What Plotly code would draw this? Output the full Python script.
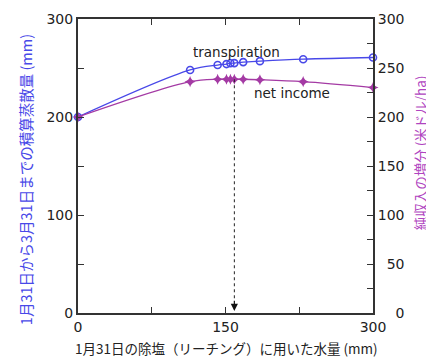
import plotly.graph_objects as go

# Data
water = [0, 114, 142, 151, 155, 159, 168, 185, 229, 300]
transpiration = [200, 248, 253, 254, 254.8, 255, 256, 257, 259, 260.7]
net_income = [200, 236, 238.5, 238.5, 238.5, 238.5, 238.5, 238, 236, 230]
optimal_water = 159
optimal_income = 238.5

x_ticks = [0, 150, 300]
y_left_ticks = [0, 100, 200, 300]
y_right_ticks = [0, 50, 100, 150, 200, 250, 300]

BLUE = "#4848e8"
PURPLE = "#a43aa4"
AXIS = "#333333"
FONT = "DejaVu Sans, sans-serif"
JFONT = "Noto Sans CJK JP"

# right-aligned right-axis labels (pad with figure spaces)
right_text = [str(v).rjust(3, "\u2007") for v in y_right_ticks]

fig = go.Figure()
fig.add_trace(go.Scatter(
    x=water, y=transpiration, mode="lines+markers",
    line=dict(color=BLUE, width=1.3, shape="spline", smoothing=1.0),
    marker=dict(symbol="circle-open", size=7, color=BLUE, line=dict(width=1.6)),
    showlegend=False, yaxis="y", cliponaxis=False))
fig.add_trace(go.Scatter(
    x=water, y=net_income, mode="lines+markers",
    line=dict(color=PURPLE, width=1.3, shape="spline", smoothing=1.0),
    marker=dict(symbol="star-diamond", size=8, color=PURPLE),
    showlegend=False, yaxis="y2", cliponaxis=False))

# dashed line from optimum down to axis with arrow
fig.add_shape(type="line", xref="x", yref="y", x0=optimal_water, x1=optimal_water,
              y0=optimal_income, y1=12, line=dict(color="#222222", width=1, dash="dot"))
fig.add_annotation(x=optimal_water, y=2, ax=optimal_water, ay=14, xref="x", yref="y",
                   axref="x", ayref="y", text="", showarrow=True, arrowhead=2,
                   arrowsize=1.2, arrowwidth=1.2, arrowcolor="#111111")

fig.add_annotation(x=161.5, y=266.5, xref="x", yref="y", text="transpiration",
                   showarrow=False, font=dict(family=FONT, size=13.5, color="#222222"))
fig.add_annotation(x=217.5, y=225, xref="x", yref="y", text="net income",
                   showarrow=False, font=dict(family=FONT, size=13.5, color="#222222"))

fig.add_annotation(x=-0.18, y=0.455, xref="paper", yref="paper", textangle=-90,
                   xanchor="center", yanchor="middle",
                   text="1月31日から3月31日までの積算蒸散量 (mm)", showarrow=False,
                   font=dict(family=JFONT, size=14.5, color=BLUE))
fig.add_annotation(x=1.16, y=0.544, xref="paper", yref="paper", textangle=-90,
                   xanchor="center", yanchor="middle",
                   text="純収入の増分 (米ドル/ha)", showarrow=False,
                   font=dict(family=JFONT, size=13.5, color="#b044c0"))
fig.add_annotation(x=0.505, y=-0.12, xref="paper", yref="paper",
                   xanchor="center", yanchor="middle",
                   text="1月31日の除塩（リーチング）に用いた水量 (mm)", showarrow=False,
                   font=dict(family=JFONT, size=13.5, color="#222222"))

# page body adds an 8px offset: compensate in size and margins
fig.update_layout(
    width=426, height=350,
    margin=dict(l=70, r=61, t=11, b=45, autoexpand=False),
    paper_bgcolor="white", plot_bgcolor="white",
    font=dict(family=FONT, size=14, color="#222222"),
    xaxis=dict(range=[0, 300], tickvals=x_ticks, ticks="inside", ticklen=6,
               tickcolor=AXIS, showline=True, linecolor=AXIS, linewidth=2,
               mirror="ticks", showgrid=False, zeroline=False,
               minor=dict(dtick=75, ticks="inside", ticklen=6, tickcolor=AXIS)),
    yaxis=dict(range=[0, 300], tickvals=y_left_ticks, ticks="inside", ticklen=6,
               tickcolor=AXIS, showline=True, linecolor=AXIS, linewidth=2,
               showgrid=False, zeroline=False,
               minor=dict(dtick=50, ticks="inside", ticklen=6, tickcolor=AXIS)),
    yaxis2=dict(range=[0, 300], tickvals=y_right_ticks, ticktext=right_text,
                overlaying="y", side="right",
                ticks="inside", ticklen=6, tickcolor=AXIS, showline=True,
                linecolor=AXIS, linewidth=2, showgrid=False, zeroline=False,
                minor=dict(dtick=25, ticks="inside", ticklen=6, tickcolor=AXIS)),
)

fig.write_html("out.html")
